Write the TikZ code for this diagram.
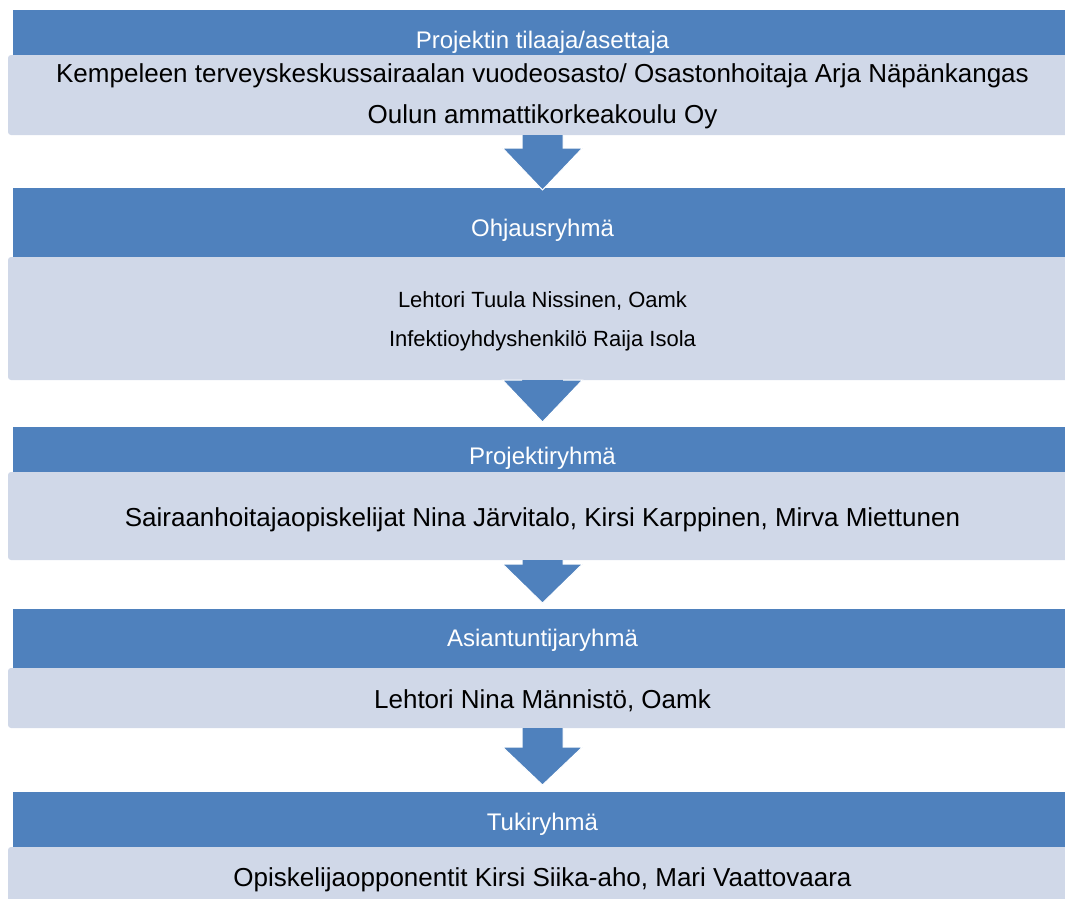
\documentclass[tikz,border=0pt]{standalone}
\usepackage{fontspec}
\setmainfont{Liberation Sans}

\begin{document}
\begin{tikzpicture}[x=1pt,y=-1pt,
	otsikko/.style={text=white, anchor=base, font=\fontsize{24}{28}\selectfont},
	teksti/.style={anchor=base, font=\fontsize{26}{30}\selectfont},
	pieni/.style={anchor=base, font=\fontsize{22}{26}\selectfont},
	nuoli/.style={fill=sininen, draw=white, line width=1pt}]
\definecolor{sininen}{RGB}{79,129,189}
\definecolor{harmaa}{RGB}{208,216,232}
	\useasboundingbox (0,0) rectangle (1065,898);
	\clip (0,0) rectangle (1065,898);

	\fill[sininen] (13,10) rectangle (1080,55);
	\fill[rounded corners=3pt, harmaa] (8,55) rectangle (1080,135);
	\fill[sininen] (13,188) rectangle (1080,257);
	\fill[rounded corners=3pt, harmaa] (8,257) rectangle (1080,380);
	\fill[sininen] (13,427) rectangle (1080,472);
	\fill[rounded corners=3pt, harmaa] (8,472) rectangle (1080,560);
	\fill[sininen] (13,609) rectangle (1080,668);
	\fill[rounded corners=3pt, harmaa] (8,668) rectangle (1080,728);
	\fill[sininen] (13,792) rectangle (1080,847);
	\fill[rounded corners=3pt, harmaa] (8,847) rectangle (1080,910);

	\foreach \t/\b/\k in {135/148/190, 380/380/422, 560/564/603, 728/747/785}
		\draw[nuoli] (522,\t) -- (522,\b) -- (502.5,\b) -- (542.5,\k) -- (582.5,\b) -- (563,\b) -- (563,\t);

	\node[otsikko] (tilaaja) at (542.5,48) {Projektin tilaaja/asettaja};
	\node[teksti] (kempele) at (542.5,82) {Kempeleen terveyskeskussairaalan vuodeosasto/ Osastonhoitaja Arja Näpänkangas};
	\node[teksti] (oamk) at (542.5,123) {Oulun ammattikorkeakoulu Oy};
	\node[otsikko] (ohjaus) at (542.5,236) {Ohjausryhmä};
	\node[pieni] (lehtori) at (542.5,307) {Lehtori Tuula Nissinen, Oamk};
	\node[pieni] (infektio) at (542.5,346) {Infektioyhdyshenkilö Raija Isola};
	\node[otsikko] (projekti) at (542.5,464) {Projektiryhmä};
	\node[teksti] (opiskelijat) at (542.5,526) {Sairaanhoitajaopiskelijat Nina Järvitalo, Kirsi Karppinen, Mirva Miettunen};
	\node[otsikko] (asiantuntija) at (542.5,646) {Asiantuntijaryhmä};
	\node[teksti] (mannisto) at (542.5,708) {Lehtori Nina Männistö, Oamk};
	\node[otsikko] (tuki) at (542.5,830) {Tukiryhmä};
	\node[teksti] (opponentit) at (542.5,886) {Opiskelijaopponentit Kirsi Siika-aho, Mari Vaattovaara};
\end{tikzpicture}
\end{document}
